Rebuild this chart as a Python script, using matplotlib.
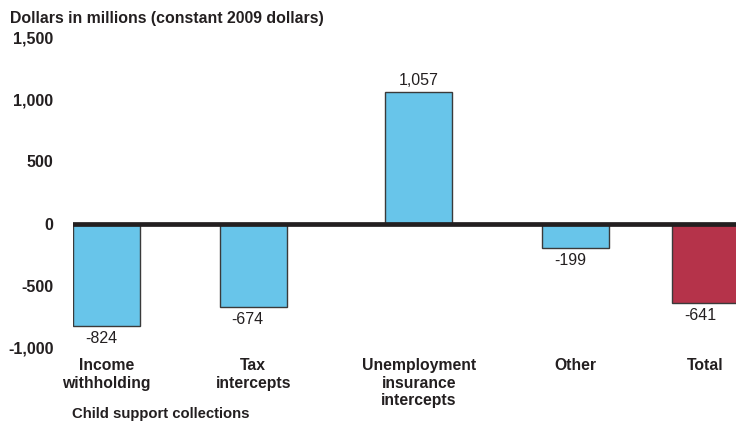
import matplotlib
matplotlib.use('Agg')
import matplotlib.pyplot as plt

# Change in child support collections, by source (millions, constant 2009 dollars)
categories = ['Income\nwithholding', 'Tax\nintercepts', 'Unemployment\ninsurance\nintercepts',
              'Other', 'Total']
values = [-824, -674, 1057, -199, -641]
value_labels = ['-824', '-674', '1,057', '-199', '-641']
yticks = [-1000, -500, 0, 500, 1000, 1500]
ytick_labels = ['-1,000', '-500', '0', '500', '1,000', '1,500']

# layout
positions = [0, 2.19, 4.66, 7.0, 8.94]
colors = ['#68c5ea', '#68c5ea', '#68c5ea', '#68c5ea', '#b5334a']

plt.rcParams['font.family'] = ['Liberation Sans', 'DejaVu Sans']

fig = plt.figure(figsize=(7.36, 4.21), dpi=100)
ax = fig.add_axes([73 / 736, 73 / 421, 663 / 736, 311 / 421])

ax.bar(positions, values, width=1.0, color=colors, edgecolor='#3a3a3a', linewidth=1.0, zorder=2)
ax.axhline(0, color='#231f20', linewidth=3.4, zorder=3)

for x, v, lab in zip(positions, values, value_labels):
    if v >= 0:
        ax.annotate(lab, (x, v), xytext=(0, 3), textcoords='offset points',
                    ha='center', va='bottom', fontsize=11.5, color='#231f20')
    else:
        ax.annotate(lab, (x, v), xytext=(-4, -3.5), textcoords='offset points',
                    ha='center', va='top', fontsize=11.5, color='#231f20')

ax.set_xlim(-0.5, -0.5 + 663 / 67)
ax.set_ylim(-1000, 1500)
ax.set_yticks(yticks)
ax.set_yticklabels(ytick_labels, fontsize=11.5, fontweight='bold', color='#231f20')
ax.tick_params(axis='y', length=0, pad=14)
ax.set_xticks([])
for s in ax.spines.values():
    s.set_visible(False)

# category names under the plot
for x, c in zip(positions, categories):
    ax.annotate(c, (x, -1000), xytext=(0, -7.5), textcoords='offset points',
                ha='center', va='top', fontsize=11.3, fontweight='bold',
                color='#231f20', linespacing=1.2)

fig.text(10 / 736, 1 - 18 / 421, 'Dollars in millions (constant 2009 dollars)',
         fontsize=11.4, fontweight='bold', color='#231f20', va='center', ha='left')
fig.text(161 / 736, 1 - 414 / 421, 'Child support collections',
         fontsize=10.7, fontweight='bold', color='#231f20', va='center', ha='center')

fig.savefig('out.png', dpi=100)
